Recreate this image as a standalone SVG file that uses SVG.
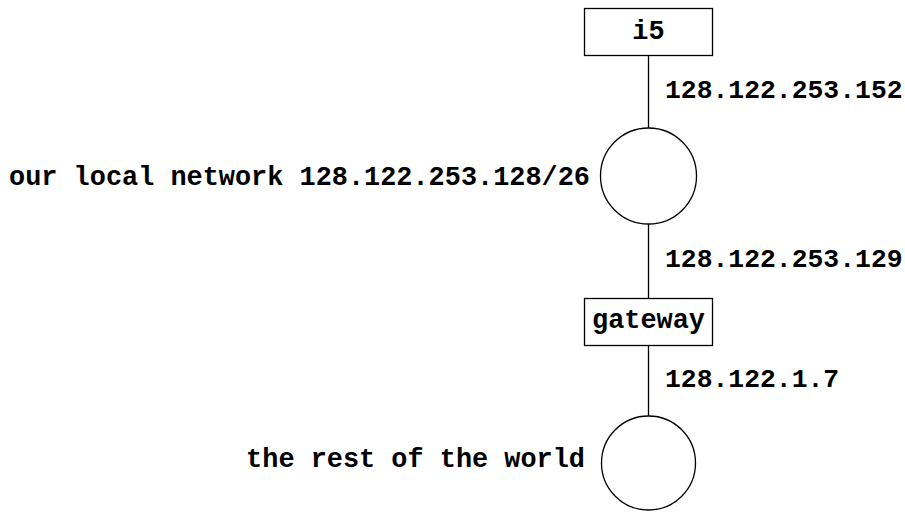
<svg xmlns="http://www.w3.org/2000/svg" width="905" height="512" viewBox="0 0 905 512">
  <style>
    .box { fill: #fff; stroke: #000; stroke-width: 1.3; }
    .net { fill: #fff; stroke: #000; stroke-width: 1.3; }
    .link { stroke: #000; stroke-width: 1.3; fill: none; }
    text { font-family: "Liberation Mono", "Courier New", monospace; font-weight: bold; font-size: 26.9px; fill: #000; }
    .addr { font-size: 26.4px; }
    .mid { text-anchor: middle; }
    .end { text-anchor: end; }
  </style>
  <rect width="905" height="512" fill="#fff"/>
  <g id="connectors">
    <line class="link" x1="648.5" y1="55" x2="648.5" y2="128"/>
    <line class="link" x1="648.5" y1="224" x2="648.5" y2="298"/>
    <line class="link" x1="648.5" y1="345" x2="648.5" y2="416"/>
    <text class="addr" x="665" y="98">128.122.253.152</text>
    <text class="addr" x="665" y="267">128.122.253.129</text>
    <text class="addr" x="665" y="387">128.122.1.7</text>
  </g>
  <g id="i5">
    <rect class="box" x="584.5" y="8.5" width="128" height="47"/>
    <text class="mid" x="648.5" y="39">i5</text>
  </g>
  <g id="local-network">
    <circle class="net" cx="648.5" cy="176" r="48"/>
    <text class="end" x="590" y="185">our local network 128.122.253.128/26</text>
  </g>
  <g id="gateway">
    <rect class="box" x="584.5" y="298.5" width="128" height="47"/>
    <text class="mid" x="648.5" y="328">gateway</text>
  </g>
  <g id="world">
    <circle class="net" cx="648.5" cy="463" r="47"/>
    <text class="end" x="585" y="467">the rest of the world</text>
  </g>
</svg>
